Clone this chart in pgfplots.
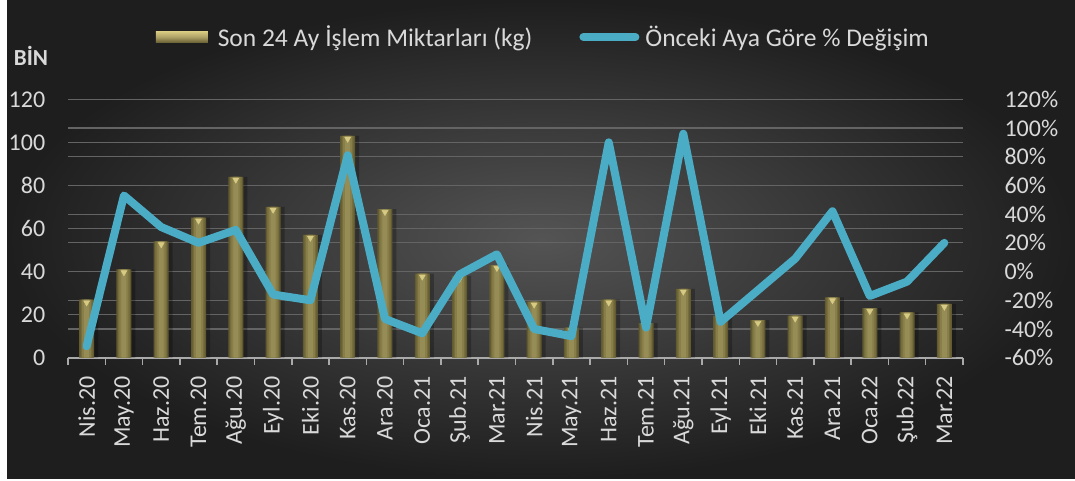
\documentclass[border=0pt]{standalone}
\usepackage{fontspec}
\setmainfont{Carlito}
\usepackage{pgfplots}
\pgfplotsset{compat=1.18}
\usepackage{pgfplotstable}
\definecolor{txt}{RGB}{217,217,217}
\definecolor{gridc}{RGB}{100,100,100}
\definecolor{axisc}{RGB}{170,170,170}
\definecolor{aqua}{RGB}{75,172,198}
\definecolor{goldA}{RGB}{98,90,48}
\definecolor{goldB}{RGB}{118,109,60}
\definecolor{goldC}{RGB}{136,126,74}
\definecolor{goldD}{RGB}{150,140,85}
\definecolor{goldlight}{RGB}{215,202,130}
\definecolor{golddark}{RGB}{105,96,52}
\definecolor{goldmid}{RGB}{172,160,100}
\definecolor{bgin}{RGB}{84,84,84}
\definecolor{bgout}{RGB}{30,30,30}
\newcommand\tf{\fontsize{24}{28}\selectfont}
\pgfplotstableread{
idx qty chg
0 27 -52
1 41 53
2 54 31
3 65 20
4 84 29
5 70 -16
6 57 -20
7 103 81
8 69 -33
9 39 -43
10 38 -2
11 43 12
12 26 -40
13 14 -45
14 27 90
15 16 -39
16 32 96
17 19.5 -35
18 17.5 -13
19 19.5 9
20 28 42
21 23 -17
22 21 -7
23 25 20
}\data
\begin{document}
\begin{tikzpicture}[x=1pt,y=1pt]
\path[use as bounding box] (0,0) rectangle (1075,481);
\fill[white] (0,0) rectangle (1075,481);
\shade[inner color=bgin, outer color=bgout] (7,2) rectangle (1075,481);
\node[text=txt, font=\bfseries\fontsize{23}{26}\selectfont] at (31,425) {BİN};
\begin{axis}[
  at={(68pt,123.3pt)}, anchor=south west,
  scale only axis, width=895pt, height=258.4pt,
  xmin=-0.5, xmax=23.5, ymin=0, ymax=120,
  axis x line*=bottom, axis y line*=left,
  x axis line style={draw=axisc, line width=2pt, -},
  y axis line style={draw=none},
  xtick={0,...,23},
  xticklabels={Nis.20,May.20,Haz.20,Tem.20,Ağu.20,Eyl.20,Eki.20,Kas.20,Ara.20,Oca.21,Şub.21,Mar.21,Nis.21,May.21,Haz.21,Tem.21,Ağu.21,Eyl.21,Eki.21,Kas.21,Ara.21,Oca.22,Şub.22,Mar.22},
  minor xtick={-0.5,0.5,...,23.5},
  major x tick style={draw=none},
  minor x tick style={draw=axisc, line width=1.5pt},
  tick align=outside, minor tick length=7pt,
  ytick={0,20,...,120},
  y tick style={draw=none},
  ymajorgrids, major grid style={draw=gridc, line width=1.2pt},
  extra y ticks={13.333,26.667,53.333,66.667,93.333,106.667},
  extra y tick labels={},
  extra y tick style={grid=major, tick style={draw=none}},
  /pgf/number format/assume math mode=true,
  yticklabel style={text=txt, font=\tf, xshift=-15pt},
  xticklabel style={text=txt, font=\tf, yshift=-11pt, rotate=90, anchor=east},
  legend columns=2,
  legend style={at={(0.531,1.241)}, anchor=center, draw=none, fill=none,
    text=txt, font=\fontsize{25.5}{29}\selectfont,
    /tikz/every even column/.append style={column sep=45pt}},
]
\addlegendimage{legend image code/.code={\shade[draw=none, top color=goldlight, bottom color=golddark, middle color=goldmid] (0pt,-5.5pt) rectangle (52pt,5.5pt); \path[draw=none, fill=none] (0pt,0pt) rectangle (60pt,0.1pt);}}
\addlegendentry{Son 24 Ay İşlem Miktarları (kg)}
\addlegendimage{legend image code/.code={\draw[aqua, line width=8pt, line cap=round] (4pt,0pt) -- (56pt,0pt); \path[draw=none, fill=none] (0pt,0pt) rectangle (64pt,0.1pt);}}
\addlegendentry{Önceki Aya Göre \% Değişim}
\addplot[ybar, bar width=17pt, bar shift=3pt, fill=black, fill opacity=0.25, draw=none, forget plot] table[x=idx,y=qty]{\data};
\addplot[ybar, bar width=15pt, draw=none, fill=goldA, forget plot] table[x=idx,y=qty]{\data};
\addplot[ybar, bar width=12pt, draw=none, fill=goldB, forget plot] table[x=idx,y=qty]{\data};
\addplot[ybar, bar width=9pt, draw=none, fill=goldC, forget plot] table[x=idx,y=qty]{\data};
\addplot[ybar, bar width=5pt, draw=none, fill=goldD, forget plot] table[x=idx,y=qty]{\data};
\addplot[only marks, mark=triangle*, mark size=3.5pt, mark options={yshift=-3pt, rotate=180, fill=goldlight, draw=goldlight}, forget plot] table[x=idx,y=qty]{\data};
\end{axis}
\begin{axis}[
  at={(68pt,123.3pt)}, anchor=south west,
  scale only axis, width=895pt, height=258.4pt,
  xmin=-0.5, xmax=23.5, ymin=-60, ymax=120,
  axis x line=none, axis y line*=right, xtick=\empty,
  y axis line style={draw=none},
  ytick={-60,-40,...,120}, y tick style={draw=none},
  /pgf/number format/assume math mode=true,
  yticklabel={\pgfmathprintnumber{\tick}\%},
  yticklabel style={text=txt, font=\tf, xshift=38pt},
]
\addplot[aqua, line width=8pt, line join=round, line cap=round, mark=none] table[x=idx,y=chg]{\data};
\end{axis}
\end{tikzpicture}
\end{document}
